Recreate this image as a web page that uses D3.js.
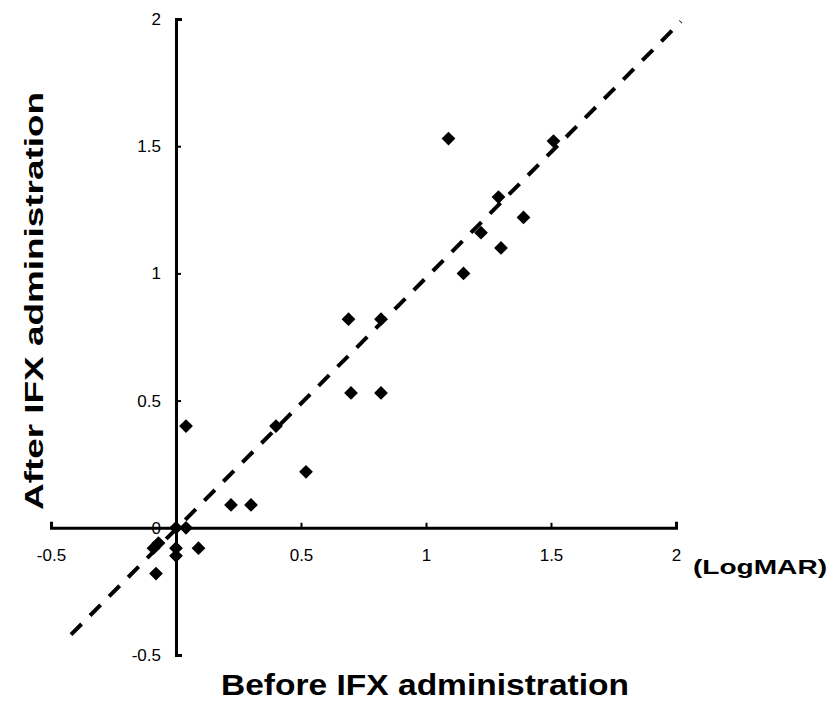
<!DOCTYPE html>
<meta charset="utf-8">
<script src="https://d3js.org/d3.v7.min.js"></script>
<style>
  body { margin: 0; background: #fff; }
  text { font-family: Arial, "Liberation Sans", sans-serif; fill: #000; }
</style>
<div id="my_dataviz"></div>
<script>
    // visual acuity (LogMAR) before / after IFX
    var before = [0.04, 0.40, 0.52, 0.22, 0.30, 0.70, 0.82, 1.09, 1.51, 1.29, 1.39, 1.22, 1.30, 1.15,
                  0.69, 0.82, 0.00, 0.04, -0.09, -0.07, 0.00, 0.00, 0.09, -0.08];
    var after  = [0.40, 0.40, 0.22, 0.09, 0.09, 0.53, 0.53, 1.53, 1.52, 1.30, 1.22, 1.16, 1.10, 1.00,
                  0.82, 0.82, 0.00, 0.00, -0.08, -0.06, -0.08, -0.11, -0.08, -0.18];
    // dashed reference line end points
    var fitX = [-0.42, 2.02];
    var fitY = [-0.42, 1.99];
    var ticks = [-0.5, 0, 0.5, 1, 1.5, 2];

    var width = 834, height = 701;

    var svg = d3.select("#my_dataviz")
      .append("svg")
        .attr("width", width)
        .attr("height", height);

    var x = d3.scaleLinear().domain([-0.5, 2]).range([51, 676]);
    var y = d3.scaleLinear().domain([-0.5, 2]).range([655, 19]);

    // X axis, crossing at y = 0
    var xAxis = svg.append("g")
        .attr("transform", "translate(0," + y(0) + ")")
        .call(d3.axisBottom(x)
            .tickValues(ticks)
            .tickSizeInner(-5)
            .tickSizeOuter(-6)
            .tickPadding(21)
            .tickFormat(function(d) { return d === 0 ? "" : String(d); }));
    xAxis.select(".domain").attr("stroke-width", 3);
    xAxis.selectAll(".tick line").attr("stroke-width", 2);
    xAxis.selectAll("text").style("font-size", "17px");

    // Y axis, crossing at x = 0
    var yAxis = svg.append("g")
        .attr("transform", "translate(" + x(0) + ",0)")
        .call(d3.axisLeft(y)
            .tickValues(ticks)
            .tickSizeInner(-5)
            .tickSizeOuter(-6)
            .tickPadding(15)
            .tickFormat(String));
    yAxis.select(".domain").attr("stroke-width", 3);
    yAxis.selectAll(".tick line").attr("stroke-width", 2);
    yAxis.selectAll("text").style("font-size", "17px");

    // dashed line
    var line = d3.line().x(function(d) { return x(d[0]); }).y(function(d) { return y(d[1]); });
    svg.append("path")
        .datum(d3.zip(fitX, fitY))
        .attr("d", line)
        .attr("fill", "none")
        .attr("stroke", "#000")
        .attr("stroke-width", 4)
        .attr("stroke-dasharray", "15,12");

    // diamonds
    var diamond = d3.symbol().type(d3.symbolSquare).size(95);
    svg.selectAll("mypoint")
      .data(d3.zip(before, after))
      .enter()
      .append("path")
        .attr("d", diamond)
        .attr("transform", function(d) { return "translate(" + x(d[0]) + "," + y(d[1]) + ")rotate(45)"; })
        .attr("fill", "#000");

    // titles
    svg.append("text")
        .attr("x", 425)
        .attr("y", 695)
        .attr("text-anchor", "middle")
        .attr("textLength", 408)
        .attr("lengthAdjust", "spacingAndGlyphs")
        .style("font-size", "30px")
        .style("font-weight", "bold")
        .text("Before IFX administration");

    svg.append("text")
        .attr("transform", "translate(43,301)rotate(-90)")
        .attr("text-anchor", "middle")
        .attr("textLength", 418)
        .attr("lengthAdjust", "spacingAndGlyphs")
        .style("font-size", "26px")
        .style("font-weight", "bold")
        .text("After IFX administration");

    svg.append("text")
        .attr("x", 693)
        .attr("y", 574)
        .attr("textLength", 134)
        .attr("lengthAdjust", "spacingAndGlyphs")
        .style("font-size", "20px")
        .style("font-weight", "bold")
        .text("(LogMAR)");
</script>
